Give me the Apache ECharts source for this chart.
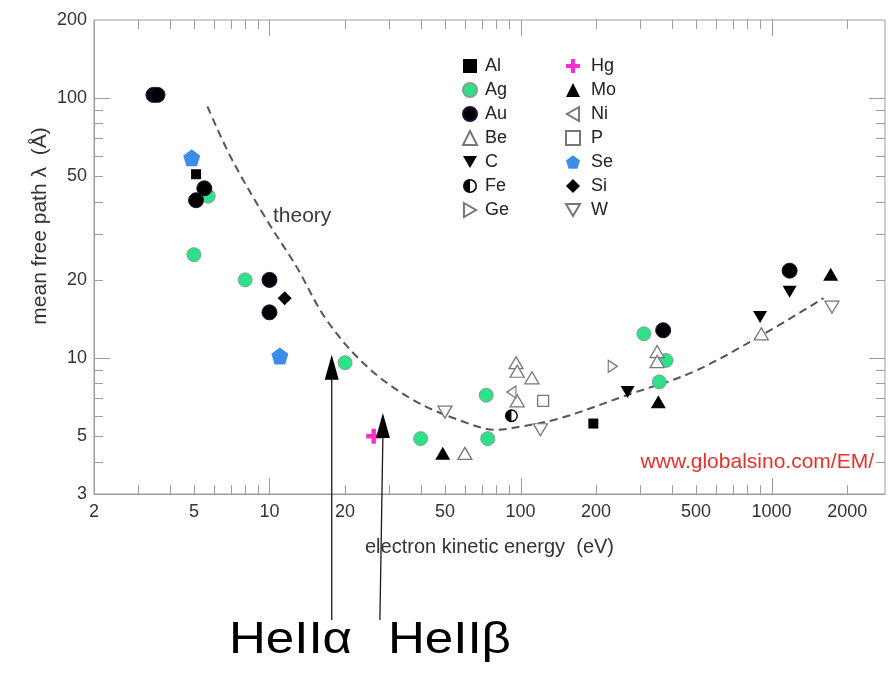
<!DOCTYPE html>
<html>
<head>
<meta charset="utf-8">
<script src="https://cdn.jsdelivr.net/npm/echarts@6/dist/echarts.min.js"></script>
<style>
  html, body { margin: 0; padding: 0; background: #fff; }
  #chart { width: 888px; height: 674px; }
</style>
</head>
<body>
<div id="chart"></div>
<script>
// ---- measured inelastic mean free path, [energy (eV), lambda (Å)] ----
const Al = [[5.1, 51], [195, 5.6]];
const Ag = [[5.7, 42], [5.0, 25], [8, 20], [20, 9.6], [40, 4.9], [73, 7.2], [74, 4.9], [310, 12.4], [380, 9.8], [357, 8.1]];
const Au = [[3.45, 103], [3.58, 103], [5.5, 45], [5.1, 40.5], [10, 20], [10, 15], [370, 12.8], [1180, 21.7]];
const Be = [[60, 4.3], [96, 9.6], [97, 8.9], [111, 8.4], [97, 6.85], [350, 10.6], [350, 9.7], [910, 12.4]];
const C  = [[267, 7.4], [900, 14.4], [1180, 18]];
const Fe = [[92, 6]];
const Ge = [[233, 9.3]];
const Hg = [[26, 5]];
const Mo = [[49, 4.3], [354, 6.8], [1720, 21]];
const Ni = [[92, 7.4]];
const P  = [[123, 6.85]];
const Se = [[4.9, 59], [11, 10.2]];
const Si = [[11.5, 17]];
const W  = [[50, 6.2], [120, 5.3], [1740, 15.7]];

// universal curve
const theoryEnergy = [5.66, 7, 9.75, 12.8, 16.9, 24.4, 37.4, 59, 80, 100, 144, 265, 488, 900, 1610];
const theoryLambda = [93, 59.5, 34, 22.5, 14, 9.3, 6.9, 5.7, 5.3, 5.45, 5.87, 7.2, 8.86, 12.15, 17];

// He II photon lines marked with arrows
const arrowEnergy = [17.7, 28.3];
const arrowLambda = [10.3, 6.15];
const arrowNames = ['HeII\u03b1', 'HeII\u03b2'];

// axes
const xRange = [2, 2830];
const yRange = [3, 200];
const xLabelValues = [2, 5, 10, 20, 50, 100, 200, 500, 1000, 2000];
const xTickValues = [3, 4, 5, 6, 7, 8, 9, 10, 20, 30, 40, 50, 60, 70, 80, 90, 100, 200, 300, 400, 500, 600, 700, 800, 900, 1000, 2000];
const yLabelValues = [3, 5, 10, 20, 50, 100, 200];
const yTickValues = [4, 5, 6, 7, 8, 9, 10, 20, 30, 40, 50, 60, 70, 80, 90, 100];

const legendLeft = ['Al', 'Ag', 'Au', 'Be', 'C', 'Fe', 'Ge'];
const legendRight = ['Hg', 'Mo', 'Ni', 'P', 'Se', 'Si', 'W'];

const FONT = '"Liberation Sans", Arial, Helvetica, sans-serif';
const AXIS_COLOR = '#9c9c9c';
const LABEL_COLOR = '#333333';

const SYM = {
  down: 'path://M0,0L20,0L10,17.3Z',
  right: 'path://M0,0L17.3,10L0,20Z',
  left: 'path://M17.3,0L0,10L17.3,20Z',
  pentagon: 'path://M10,0L19.5,6.9L15.9,18.1L4.1,18.1L0.5,6.9Z',
  plus: 'path://M7,0H13V7H20V13H13V20H7V13H0V7H7Z',
  half: 'path://M10,0A10,10 0 1,1 10,20A10,10 0 1,1 10,0ZM10,2.2L10,17.8A7.8,7.8 0 0,0 10,2.2Z'
};

const isDecade = v => Math.abs(Math.log10(v) - Math.round(Math.log10(v))) < 1e-9;
const crisp = v => Math.round(v) + 0.5;

function pts(name, data, symbol, size, style) {
  return {
    name, type: 'scatter', data, symbol, symbolSize: size,
    itemStyle: Object.assign({ opacity: 1 }, style), z: 5,
    emphasis: { disabled: true }
  };
}
const hollow = { color: '#ffffff', borderColor: '#777777', borderWidth: 1.3 };
const solid = { color: '#000000' };

const chart = echarts.init(document.getElementById('chart'), null, { renderer: 'canvas' });

const legendBase = {
  orient: 'vertical', top: 52, itemGap: 6, itemWidth: 14, itemHeight: 14,
  selectedMode: false
};
const legendText = pad => ({ fontFamily: FONT, fontSize: 18, color: '#222', padding: [0, 0, 0, pad] });

chart.setOption({
  animation: false,
  backgroundColor: '#ffffff',
  grid: { left: 94, right: 3, top: 20, bottom: 180, show: true, borderColor: AXIS_COLOR, borderWidth: 1 },
  legend: [
    Object.assign({ left: 457, data: legendLeft, textStyle: legendText(3) }, legendBase),
    Object.assign({ left: 560, data: legendRight, textStyle: legendText(6) }, legendBase)
  ],
  xAxis: {
    type: 'log', logBase: 10, min: xRange[0], max: xRange[1],
    name: 'electron kinetic energy  (eV)', nameLocation: 'middle', nameGap: 43,
    nameTextStyle: { fontFamily: FONT, fontSize: 20, color: LABEL_COLOR },
    axisLine: { lineStyle: { color: AXIS_COLOR } },
    axisTick: { show: false }, axisLabel: { show: false }, splitLine: { show: false }
  },
  yAxis: {
    type: 'log', logBase: 10, min: yRange[0], max: yRange[1],
    axisLine: { show: true, lineStyle: { color: AXIS_COLOR } },
    axisTick: { show: false }, axisLabel: { show: false }, splitLine: { show: false }
  },
  graphic: [
    { type: 'text', x: 40, y: 226, rotation: Math.PI / 2, z: 10,
      style: { text: 'mean free path \u03bb  (\u00c5)', font: '21px ' + FONT, fill: LABEL_COLOR, align: 'center', verticalAlign: 'middle' } },
    { type: 'text', x: 273, y: 216, z: 10,
      style: { text: 'theory', font: '21px ' + FONT, fill: '#3a3a3a', verticalAlign: 'middle' } },
    { type: 'text', x: 874, y: 462, z: 10,
      style: { text: 'www.globalsino.com/EM/', font: '21px ' + FONT, fill: '#e5302c', align: 'right', verticalAlign: 'middle' } },
    { type: 'text', x: 229, y: 641, scaleX: 1.16, z: 10,
      style: { text: arrowNames[0], font: '44px ' + FONT, fill: '#000', verticalAlign: 'middle' } },
    { type: 'text', x: 388, y: 641, scaleX: 1.16, z: 10,
      style: { text: arrowNames[1], font: '44px ' + FONT, fill: '#000', verticalAlign: 'middle' } }
  ],
  series: [
    {
      name: 'theory', type: 'line', smooth: 0.35, symbol: 'none', z: 3,
      data: theoryEnergy.map((e, i) => [e, theoryLambda[i]]),
      lineStyle: { color: '#555555', width: 2, type: [8, 5] },
      emphasis: { disabled: true }
    },
    pts('Al', Al, 'rect', 10, solid),
    pts('Ag', Ag, 'circle', 14, { color: '#2fe08a', borderColor: '#7fa392', borderWidth: 1 }),
    pts('Au', Au, 'circle', 15, { color: '#000000', borderColor: '#1c1238', borderWidth: 1 }),
    pts('Be', Be, 'triangle', [14, 12], hollow),
    pts('C', C, SYM.down, [14, 12], solid),
    pts('Fe', Fe, SYM.half, 13, solid),
    pts('Ge', Ge, SYM.right, [9, 12], hollow),
    pts('Hg', Hg, SYM.plus, 15, { color: '#ff2fcf' }),
    pts('Mo', Mo, 'triangle', [15, 13], solid),
    pts('Ni', Ni, SYM.left, [9, 12], hollow),
    pts('P', P, 'rect', 11, hollow),
    pts('Se', Se, SYM.pentagon, 17, { color: '#3a8ee9' }),
    pts('Si', Si, 'diamond', 14, solid),
    pts('W', W, SYM.down, [14, 12], hollow),
    // tick marks on all four sides
    {
      type: 'custom', name: 'xticks', silent: true, clip: false, z: 2,
      data: xTickValues.map(v => [v, yRange[0]]),
      renderItem(params, api) {
        const v = api.value(0);
        const len = isDecade(v) ? 16 : 9;
        const b = api.coord([v, yRange[0]]);
        const t = api.coord([v, yRange[1]]);
        const x = crisp(b[0]);
        return { type: 'group', children: [
          { type: 'line', shape: { x1: x, y1: b[1], x2: x, y2: b[1] - len }, style: { stroke: AXIS_COLOR, lineWidth: 1 } },
          { type: 'line', shape: { x1: x, y1: t[1], x2: x, y2: t[1] + len }, style: { stroke: AXIS_COLOR, lineWidth: 1 } }
        ] };
      }
    },
    {
      type: 'custom', name: 'yticks', silent: true, clip: false, z: 2,
      data: yTickValues.map(v => [xRange[0], v]),
      renderItem(params, api) {
        const v = api.value(1);
        const len = isDecade(v) ? 16 : 9;
        const l = api.coord([xRange[0], v]);
        const r = api.coord([xRange[1], v]);
        const y = crisp(l[1]);
        return { type: 'group', children: [
          { type: 'line', shape: { x1: l[0], y1: y, x2: l[0] + len, y2: y }, style: { stroke: AXIS_COLOR, lineWidth: 1 } },
          { type: 'line', shape: { x1: r[0], y1: y, x2: r[0] - len, y2: y }, style: { stroke: AXIS_COLOR, lineWidth: 1 } }
        ] };
      }
    },
    // tick labels
    {
      type: 'custom', name: 'xlabels', silent: true, clip: false, z: 2,
      data: xLabelValues.map(v => [v, yRange[0]]),
      renderItem(params, api) {
        const v = api.value(0);
        const p = api.coord([v, yRange[0]]);
        return { type: 'text', x: p[0], y: p[1] + 9,
          style: { text: String(v), fill: LABEL_COLOR, font: '18px ' + FONT, align: 'center', verticalAlign: 'top' } };
      }
    },
    {
      type: 'custom', name: 'ylabels', silent: true, clip: false, z: 2,
      data: yLabelValues.map(v => [xRange[0], v]),
      renderItem(params, api) {
        const v = api.value(1);
        const p = api.coord([xRange[0], v]);
        return { type: 'text', x: p[0] - 7, y: p[1],
          style: { text: String(v), fill: LABEL_COLOR, font: '18px ' + FONT, align: 'right', verticalAlign: 'middle' } };
      }
    },
    // He II arrows, running from below the axis up to the marked energy
    {
      type: 'custom', name: 'arrows', silent: true, clip: false, z: 8,
      data: arrowEnergy.map((e, i) => [e, arrowLambda[i]]),
      renderItem(params, api) {
        const tip = api.coord([api.value(0), api.value(1)]);
        const footY = 620;
        const footX = tip[0] - (params.dataIndex === 1 ? 3 : 0);
        const headLen = 25, headHalf = 7;
        return { type: 'group', children: [
          { type: 'line', shape: { x1: footX, y1: footY, x2: tip[0], y2: tip[1] + headLen - 2 },
            style: { stroke: '#1a1a1a', lineWidth: 1.3 } },
          { type: 'polygon', shape: { points: [[tip[0], tip[1]], [tip[0] - headHalf, tip[1] + headLen], [tip[0] + headHalf, tip[1] + headLen]] },
            style: { fill: '#000' } }
        ] };
      }
    }
  ]
});
</script>
</body>
</html>
